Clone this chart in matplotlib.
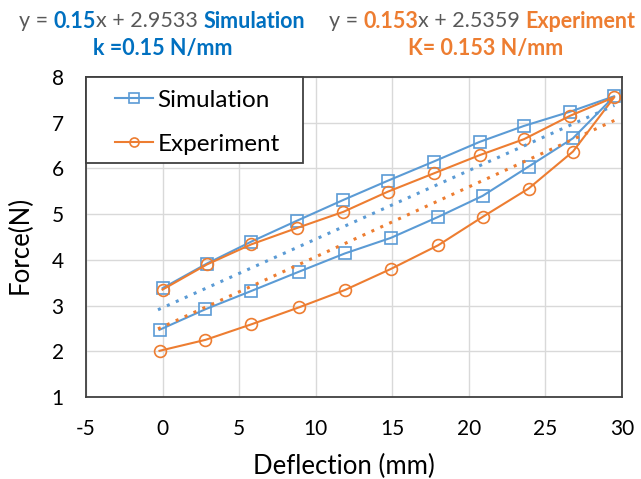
import matplotlib.pyplot as plt
from matplotlib.patches import Rectangle

plt.rcParams['font.family'] = ['Lato', 'DejaVu Sans']
plt.rcParams['axes.unicode_minus'] = False

# loading then unloading path (mm, N)
sim_x = [0, 2.9, 5.8, 8.8, 11.8, 14.7, 17.7, 20.7, 23.6, 26.6, 29.5,
         26.8, 23.9, 20.9, 18.0, 14.9, 11.9, 8.9, 5.8, 2.8, -0.2]
sim_y = [3.38, 3.92, 4.40, 4.86, 5.31, 5.73, 6.15, 6.58, 6.93, 7.24, 7.58,
         6.66, 6.04, 5.40, 4.94, 4.48, 4.14, 3.74, 3.32, 2.92, 2.47]
exp_x = [0, 2.9, 5.8, 8.8, 11.8, 14.7, 17.7, 20.7, 23.6, 26.6, 29.5,
         26.8, 23.9, 20.9, 18.0, 14.9, 11.9, 8.9, 5.8, 2.8, -0.2]
exp_y = [3.35, 3.90, 4.34, 4.70, 5.05, 5.49, 5.89, 6.29, 6.64, 7.15, 7.56,
         6.37, 5.56, 4.94, 4.32, 3.80, 3.34, 2.96, 2.59, 2.25, 2.01]

# linear trendlines shown in the header
sim_k, sim_b = 0.15, 2.9533
exp_k, exp_b = 0.153, 2.5359
trend_x = [-0.3, 29.5]

blue = '#5B9BD5'
orange = '#ED7D31'
dark_blue = '#0070C0'
gray = '#595959'
W, H = 641, 479

fig = plt.figure(figsize=(6.41, 4.79), dpi=100)
ax = fig.add_axes([86 / W, 1 - 397 / H, 536 / W, 320 / H])

ax.plot(sim_x, sim_y, color=blue, lw=1.5, marker='s', ms=8,
        mfc='none', mec=blue, mew=1.2, label='Simulation')
ax.plot(exp_x, exp_y, color=orange, lw=1.5, marker='o', ms=8.5,
        mfc='none', mec=orange, mew=1.2, label='Experiment')
ax.plot(trend_x, [sim_k * x + sim_b for x in trend_x], color=blue,
        lw=2.2, ls=(0, (1, 2.2)))
ax.plot(trend_x, [exp_k * x + exp_b for x in trend_x], color=orange,
        lw=2.2, ls=(0, (1, 2.2)))

ax.set_xlim(-5, 30)
ax.set_ylim(1, 8)
ax.set_xticks(range(-5, 31, 5))
ax.set_yticks(range(1, 9))
ax.grid(True, color='#D9D9D9', lw=1)
ax.set_axisbelow(True)
ax.tick_params(length=0, labelsize=15, colors='#000000')
ax.tick_params(axis='x', pad=16)
ax.tick_params(axis='y', pad=16)
for s in ax.spines.values():
    s.set_color('#404040')
    s.set_linewidth(1.3)

fig.text(344 / W, 1 - 466 / H, 'Deflection (mm)', fontsize=18.5,
         ha='center', va='center')
fig.text(20 / W, 1 - 245 / H, 'Force(N)', fontsize=18.5, rotation=90,
         ha='center', va='center')

# legend box drawn separately to get the wide Excel frame
fig.add_artist(Rectangle((86 / W, 1 - 163 / H), 217 / W, 86 / H,
                         transform=fig.transFigure, facecolor='white',
                         edgecolor='#404040', lw=1.3, zorder=3))
leg = fig.legend(*ax.get_legend_handles_labels(), loc='upper left',
                 bbox_to_anchor=(110 / W, 1 - 85 / H), fontsize=17.5,
                 handlelength=1.55, frameon=False, borderpad=0.2,
                 borderaxespad=0, labelspacing=0.95, handletextpad=0.2)
leg.set_zorder(4)
for h in leg.legend_handles:
    h.set_markersize(6.5)


def colored_line(pieces, cx, y, size):
    r = fig.canvas.get_renderer()
    texts = []
    for s, c, w in pieces:
        t = fig.text(0, y, s, color=c, fontweight=w, fontsize=size,
                     va='center', ha='left')
        texts.append(t)
    widths = [t.get_window_extent(r).width for t in texts]
    x = cx - sum(widths) / 2
    for t, wd in zip(texts, widths):
        t.set_x(x / W)
        x += wd


y1 = 1 - 21 / H
y2 = 1 - 49 / H
colored_line([('y = ', gray, 'normal'), ('0.15', dark_blue, 'bold'),
              ('x + 2.9533 ', gray, 'normal'), ('Simulation', dark_blue, 'bold')],
             162, y1, 15.5)
colored_line([('y = ', gray, 'normal'), ('0.153', orange, 'bold'),
              ('x + 2.5359 ', gray, 'normal'), ('Experiment', orange, 'bold')],
             482, y1, 15.5)
colored_line([('k =0.15 N/mm', dark_blue, 'bold')], 163, y2, 15.5)
colored_line([('K= 0.153 N/mm', orange, 'bold')], 486, y2, 15.5)

fig.savefig('out.png', dpi=100)
